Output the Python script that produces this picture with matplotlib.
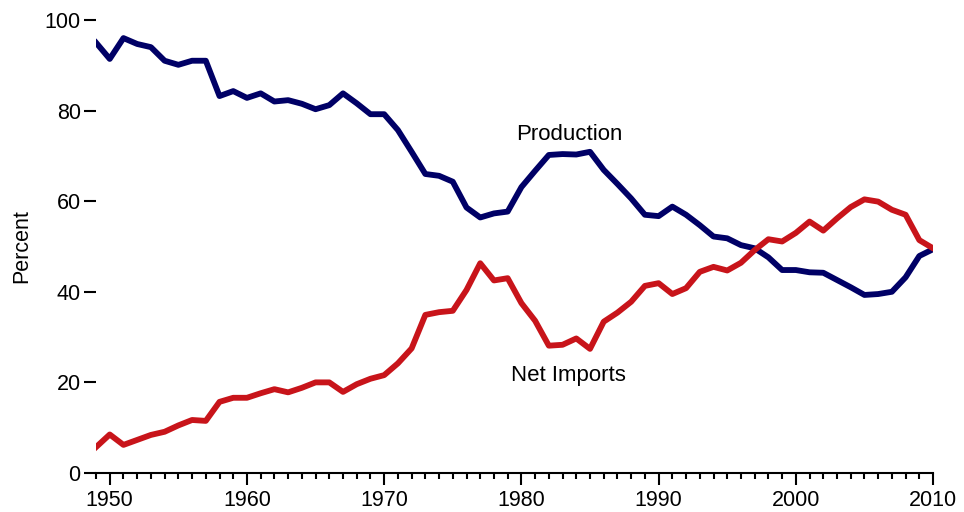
import numpy as np
import matplotlib
matplotlib.use("Agg")
import matplotlib.pyplot as plt
from matplotlib.ticker import MultipleLocator

plt.rcParams["font.family"] = ["Liberation Sans", "DejaVu Sans"]

years = np.arange(1949, 2011)

production = [
    95.0, 91.4, 96.0, 94.7, 94.0, 91.0, 90.1, 91.0, 91.0, 83.2,
    84.3, 82.8, 83.8, 82.0, 82.3, 81.5, 80.3, 81.2, 83.8, 81.6,
    79.2, 79.2, 75.7, 70.9, 66.0, 65.6, 64.3, 58.6, 56.4, 57.3,
    57.7, 63.1, 66.7, 70.2, 70.4, 70.3, 70.9, 66.9, 63.8, 60.6,
    57.0, 56.7, 58.8, 57.0, 54.7, 52.2, 51.8, 50.3, 49.6, 47.6,
    44.8, 44.8, 44.3, 44.2, 42.6, 41.0, 39.3, 39.5, 40.0, 43.2,
    47.9, 49.4,
]

net_imports = [
    5.7, 8.5, 6.2, 7.3, 8.4, 9.1, 10.5, 11.7, 11.5, 15.7,
    16.6, 16.6, 17.6, 18.5, 17.8, 18.8, 20.0, 20.0, 17.9, 19.6,
    20.8, 21.6, 24.2, 27.5, 34.9, 35.5, 35.8, 40.4, 46.3, 42.5,
    43.0, 37.5, 33.6, 28.1, 28.3, 29.7, 27.4, 33.4, 35.4, 37.8,
    41.3, 41.9, 39.5, 40.8, 44.4, 45.5, 44.7, 46.4, 49.2, 51.6,
    51.1, 53.0, 55.5, 53.5, 56.2, 58.7, 60.4, 59.9, 58.1, 57.0,
    51.4, 49.6,
]

fig = plt.figure(figsize=(9.64, 5.12), dpi=100)
ax = fig.add_axes([0.0996, 0.0762, 0.8683, 0.8848])

ax.plot(years, production, color="#000066", lw=4.2)
ax.plot(years, net_imports, color="#C8141A", lw=4.2)

ax.text(1983.5, 73.5, "Production", fontsize=16, ha="center", va="baseline")
ax.text(1983.4, 20.2, "Net Imports", fontsize=16, ha="center", va="baseline")

ax.set_xlim(1949, 2010)
ax.set_ylim(0, 100)
ax.set_xticks([1950, 1960, 1970, 1980, 1990, 2000, 2010])
ax.xaxis.set_minor_locator(MultipleLocator(1))
ax.set_yticks([0, 20, 40, 60, 80, 100])

for side in ["top", "right", "left"]:
    ax.spines[side].set_visible(False)
ax.spines["bottom"].set_linewidth(1.5)

ax.tick_params(axis="both", which="major", labelsize=15.5, width=1.5, length=8.5)
ax.tick_params(axis="x", which="major", pad=4)
ax.tick_params(axis="y", which="major", pad=2.5)
ax.tick_params(axis="x", which="minor", width=1.5, length=4.5)

ax.set_ylabel("Percent", fontsize=15.5, labelpad=9)

fig.savefig("out.png", dpi=100)
